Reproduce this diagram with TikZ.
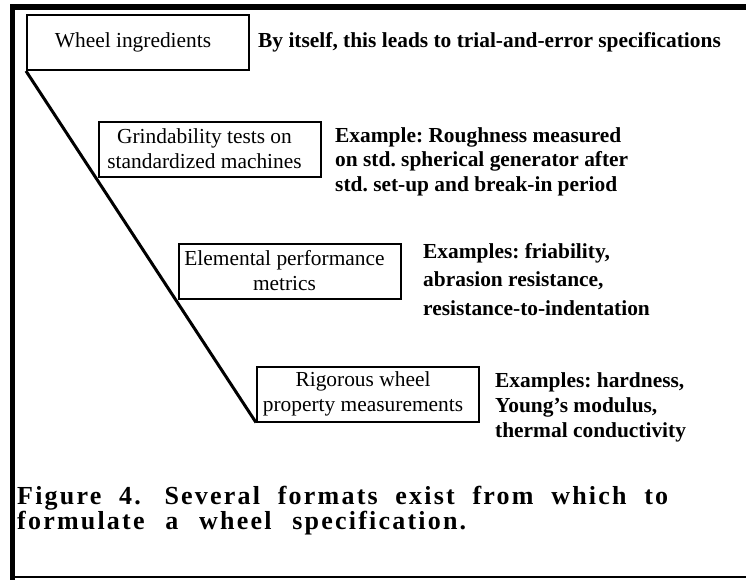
\documentclass[tikz,border=0pt]{standalone}
\usepackage{fontspec}
\setmainfont{Liberation Serif}
\newfontfamily\capfont[LetterSpace=8.5]{Liberation Serif}
% trailing space that moves a centred line a little to the left
\newcommand\stageline[1]{#1\hspace*{10pt}}
\begin{document}
\frenchspacing
\begin{tikzpicture}[x=1pt,y=-1pt,
  stage/.style={draw, line width=2pt, minimum width=222pt, minimum height=55pt,
    inner sep=0pt, align=center, font=\fontsize{21.4}{25}\selectfont},
  note/.style={anchor=base west, inner sep=0pt, font=\bfseries},
  caption/.style={anchor=base west, inner sep=0pt, text height=17pt, text depth=4pt,
    font=\capfont\bfseries\fontsize{26}{26}\selectfont},
  frame/.style={line cap=rect}]
\useasboundingbox (0,0) rectangle (746,579);

% page frame: heavy top and left rules, thin bottom rule
\draw[frame, line width=6pt] (12.5,7) -- (746,7);
\draw[frame, line width=5.5pt] (12.5,7) -- (12.5,578);
\draw[line width=2pt] (10,577) -- (746,577);

% the four levels of specification
\node[stage] (ingr)  at (138,42.5) {\stageline{Wheel ingredients}};
\node[stage] (grind) at (209.5,149) {\stageline{Grindability tests on}\\\stageline{standardized machines}};
\node[stage] (elem)  at (289.5,271) {\stageline{Elemental performance}\\\stageline{metrics}};
\node[stage] (rig)   at (368,394)  {\stageline{Rigorous wheel}\\\stageline{property measurements}};

% slanted rule tying the levels together
\draw[line width=3pt] (ingr.south west) -- (rig.south west);

% explanatory notes
\node[note] (n0) at (258,47) {\fontsize{21.4}{25}\selectfont By itself, this leads to trial-and-error specifications};
\node[note] (n1) at (335,142) {\fontsize{21.4}{24.5}\selectfont\parbox[t]{400pt}{Example: Roughness measured\\on std. spherical generator after\\std. set-up and break-in period}};
\node[note] (n2) at (423,258) {\fontsize{21.4}{28.5}\selectfont\parbox[t]{320pt}{Examples: friability,\\abrasion resistance,\\resistance-to-indentation}};
\node[note] (n3) at (495,387) {\fontsize{21.4}{25}\selectfont\parbox[t]{250pt}{Examples: hardness,\\Young’s modulus,\\thermal conductivity}};

% figure caption, each line spread to the full measure
\node[caption] (cap1) at (17,504) {\makebox[651pt][s]{Figure 4.\hspace{6pt} Several formats exist from which to}};
\node[caption] (cap2) at (17,529) {\makebox[449pt][s]{formulate a wheel specification.}};
\end{tikzpicture}
\end{document}
